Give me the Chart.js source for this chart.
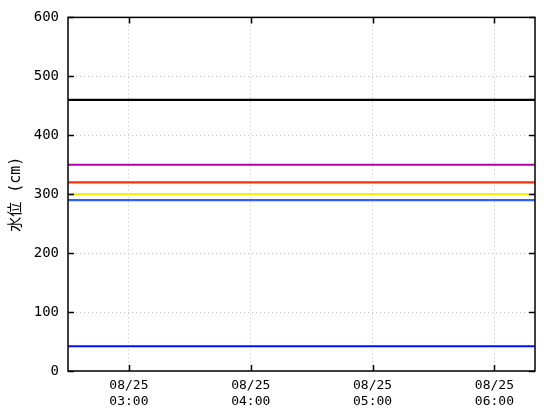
<!DOCTYPE html>
<html>
<head>
<meta charset="utf-8">
<script src="https://cdn.jsdelivr.net/npm/chart.js@4"></script>
<style>
  html, body { margin: 0; padding: 0; background: #fff; }
  #wrap { width: 560px; height: 420px; }
</style>
</head>
<body>
<div id="wrap"><canvas id="myChart" width="560" height="420"></canvas></div>
<script>
// time axis in minutes since 00:00 on 08/25
let timeRange = [150, 380];
let tickTimes = [180, 240, 300, 360];
let tickDates = ['08/25', '08/25', '08/25', '08/25'];
let tickHours = ['03:00', '04:00', '05:00', '06:00'];
let yTicks = [0, 100, 200, 300, 400, 500, 600];

// water level lines (cm), start and end of the range
let levelBlack = [460, 460];
let levelMagenta = [350, 350];
let levelRed = [320, 320];
let levelYellow = [300, 300];
let levelLightBlue = [290, 290];
let levelBlue = [42, 42];

let fontName = "'DejaVu Sans Mono', 'Noto Sans CJK JP', monospace";

function toPoints(values) {
  return values.map((v, i) => ({ x: timeRange[i], y: v }));
}

function makeSet(values, color) {
  return {
    data: toPoints(values),
    borderColor: color,
    borderWidth: 2.2,
    pointRadius: 0,
    fill: false
  };
}

// frame plus inward tick marks on every side
const framePlugin = {
  id: 'frame',
  afterDraw(chart) {
    const c = chart.ctx;
    const a = chart.chartArea;
    const xs = chart.scales.x;
    const ys = chart.scales.y;
    c.save();
    c.strokeStyle = '#000';
    c.lineWidth = 1.5;
    c.strokeRect(a.left, a.top, a.right - a.left, a.bottom - a.top);
    c.beginPath();
    tickTimes.forEach(t => {
      let px = Math.round(xs.getPixelForValue(t)) + 0.5;
      c.moveTo(px, a.bottom); c.lineTo(px, a.bottom - 6);
      c.moveTo(px, a.top); c.lineTo(px, a.top + 6);
    });
    yTicks.forEach(v => {
      let py = Math.round(ys.getPixelForValue(v)) + 0.5;
      c.moveTo(a.left, py); c.lineTo(a.left + 6, py);
      c.moveTo(a.right, py); c.lineTo(a.right - 6, py);
    });
    c.stroke();
    c.restore();
  }
};

let ctx = document.getElementById('myChart');

let myChart = new Chart(ctx, {
  type: 'line',
  data: {
    datasets: [
      makeSet(levelBlack, '#000000'),
      makeSet(levelMagenta, '#b000b0'),
      makeSet(levelRed, '#ff3010'),
      makeSet(levelYellow, '#f8f000'),
      makeSet(levelLightBlue, '#2c60ff'),
      makeSet(levelBlue, '#0010ff')
    ]
  },
  options: {
    responsive: false,
    animation: false,
    layout: { padding: { top: 16, right: 25, bottom: 0, left: 0 } },
    plugins: {
      legend: { display: false },
      tooltip: { enabled: false }
    },
    scales: {
      x: {
        type: 'linear',
        min: timeRange[0],
        max: timeRange[1],
        afterBuildTicks(scale) {
          scale.ticks = tickTimes.map(t => ({ value: t }));
        },
        afterFit(scale) { scale.height = 49; },
        ticks: {
          autoSkip: false,
          maxRotation: 0,
          color: '#000',
          font: { family: fontName, size: 13, lineHeight: 1.2 },
          padding: 7,
          callback: function(value) {
            let i = tickTimes.indexOf(value);
            return [tickDates[i], tickHours[i]];
          }
        },
        grid: {
          color: '#c0c0c0',
          drawTicks: false
        },
        border: { display: false, dash: [1, 3] }
      },
      y: {
        min: 0,
        max: 600,
        afterBuildTicks(scale) {
          scale.ticks = yTicks.map(v => ({ value: v }));
        },
        afterFit(scale) { scale.width = 68; },
        title: {
          display: true,
          text: '水位 (cm)',
          color: '#000',
          font: { family: fontName, size: 15 },
          padding: { top: 7, bottom: 0 }
        },
        ticks: {
          color: '#000',
          font: { family: fontName, size: 14 },
          padding: 9
        },
        grid: {
          color: '#c0c0c0',
          drawTicks: false
        },
        border: { display: false, dash: [1, 3] }
      }
    }
  },
  plugins: [framePlugin]
});
</script>
</body>
</html>
